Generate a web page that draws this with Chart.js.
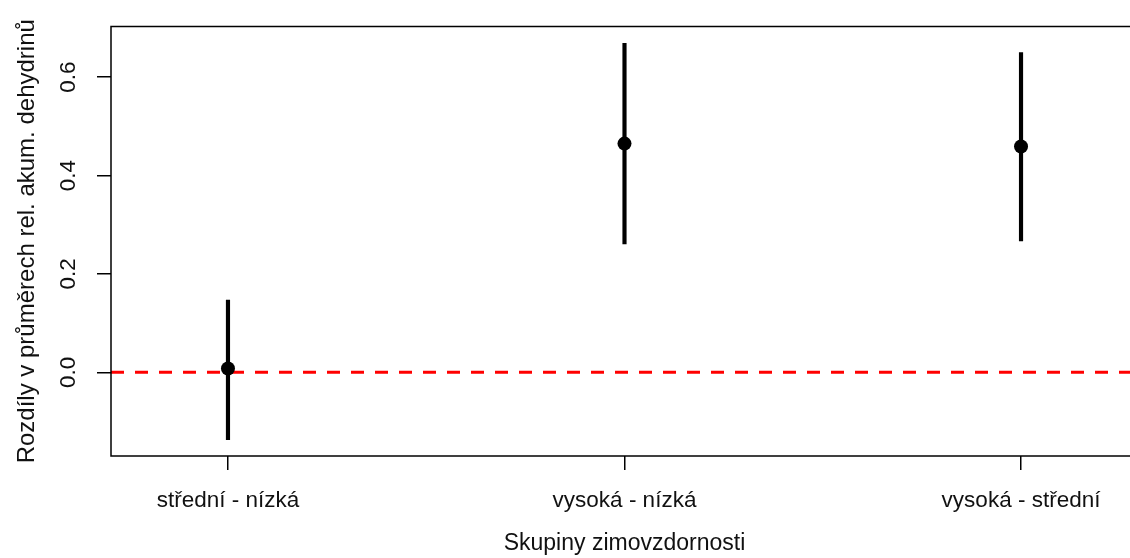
<!DOCTYPE html>
<html>
<head>
<meta charset="utf-8">
<script src="https://cdn.jsdelivr.net/npm/chart.js@4"></script>
<style>
  html, body { margin: 0; padding: 0; background: #fff; overflow: hidden; }
  #wrap { width: 1145px; height: 558px; }
</style>
</head>
<body>
<div id="wrap"><canvas id="tukeyChart" width="1145" height="558"></canvas></div>
<script>
// Pairwise differences (Tukey-style)
const groups = ['střední - nízká', 'vysoká - nízká', 'vysoká - střední'];
const estimate = [0.008, 0.465, 0.459];
const lower = [-0.137, 0.261, 0.267];
const upper = [0.147, 0.669, 0.650];
const yTicks = [0.0, 0.2, 0.4, 0.6];
const xRange = [0.705, 3.295];
const yRange = [-0.170, 0.703];

const positions = groups.map((g, i) => i + 1);

const family = "'Liberation Sans', Arial, sans-serif";

// box around the plot region, like R's box()
const frame = {
    id: 'frame',
    afterDraw(chart) {
        const { ctx, chartArea: a } = chart;
        ctx.save();
        ctx.strokeStyle = '#000';
        ctx.lineWidth = 1.5;
        ctx.strokeRect(a.left, a.top, a.right - a.left, a.bottom - a.top);
        ctx.restore();
    }
};

new Chart(document.getElementById('tukeyChart'), {
    type: 'scatter',
    data: {
        datasets: [
            {
                type: 'scatter',
                data: positions.map((x, i) => ({ x: x, y: estimate[i] })),
                backgroundColor: '#000',
                borderWidth: 0,
                pointRadius: 7,
                order: 1
            },
            {
                type: 'bar',
                data: positions.map((x, i) => ({ x: x, y: [lower[i], upper[i]] })),
                backgroundColor: '#000',
                borderWidth: 0,
                barThickness: 3.5,
                order: 2
            },
            {
                type: 'line',
                data: [{ x: xRange[0], y: 0 }, { x: xRange[1], y: 0 }],
                borderColor: '#ff0000',
                borderWidth: 3,
                borderDash: [13, 11],
                pointRadius: 0,
                order: 3
            }
        ]
    },
    options: {
        responsive: false,
        animation: false,
        layout: { padding: { top: 24, right: 6, bottom: 0, left: 0 } },
        plugins: { legend: { display: false }, tooltip: { enabled: false } },
        scales: {
            x: {
                type: 'linear',
                min: xRange[0],
                max: xRange[1],
                offset: false,
                afterBuildTicks: (s) => { s.ticks = positions.map(v => ({ value: v })); },
                afterFit: (s) => { s.height = 102; },
                border: { display: false },
                grid: { offset: false, drawOnChartArea: false, drawTicks: true, tickLength: 14, color: '#000', lineWidth: 1.5 },
                ticks: {
                    color: '#111',
                    font: { family: family, size: 22.5 },
                    padding: 17,
                    maxRotation: 0,
                    callback: (v) => groups[Math.round(v) - 1]
                },
                title: {
                    display: true,
                    text: 'Skupiny zimovzdornosti',
                    color: '#111',
                    font: { family: family, size: 23 },
                    padding: { top: 0, bottom: 1 }
                }
            },
            y: {
                min: yRange[0],
                max: yRange[1],
                afterBuildTicks: (s) => { s.ticks = yTicks.map(v => ({ value: v })); },
                afterFit: (s) => { s.width = 111; },
                border: { display: false },
                grid: { drawOnChartArea: false, drawTicks: true, tickLength: 14, color: '#000', lineWidth: 1.5 },
                ticks: {
                    color: '#111',
                    font: { family: family, size: 22.5 },
                    padding: 13,
                    minRotation: 90,
                    maxRotation: 90,
                    crossAlign: 'center',
                    callback: (v) => v.toFixed(1)
                },
                title: {
                    display: true,
                    text: 'Rozdíly v průměrech rel. akum. dehydrinů',
                    color: '#111',
                    font: { family: family, size: 24 },
                    padding: { top: 13, bottom: 0 }
                }
            }
        }
    },
    plugins: [frame]
});
</script>
</body>
</html>
